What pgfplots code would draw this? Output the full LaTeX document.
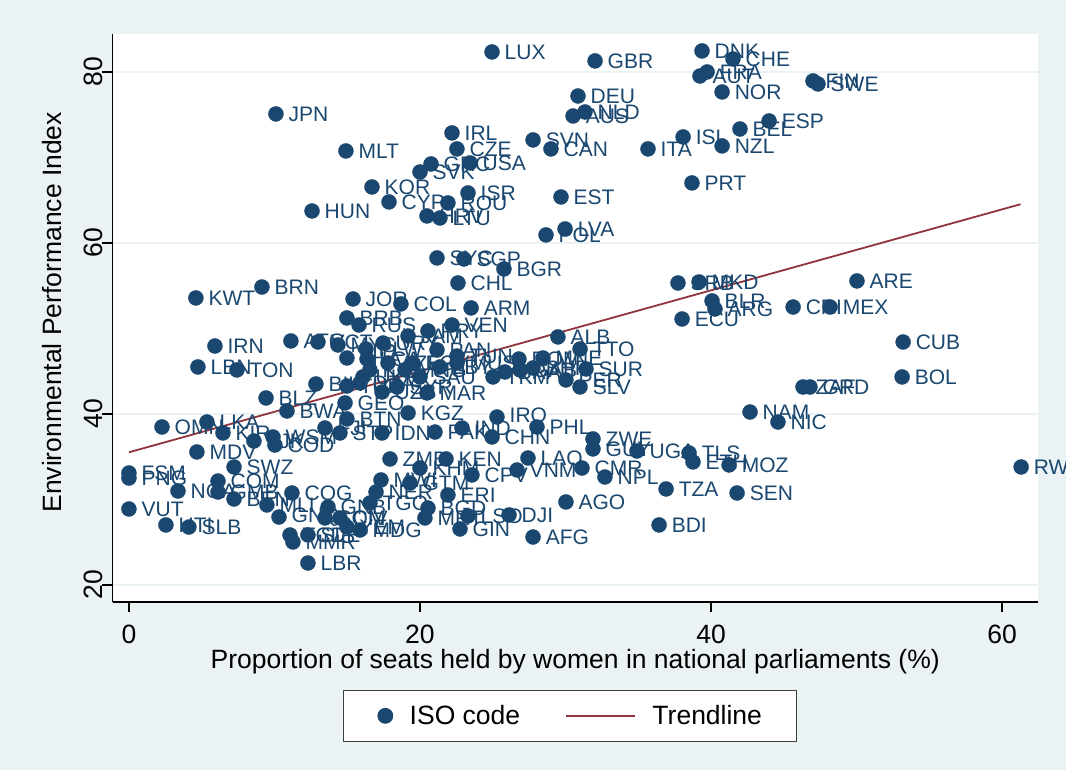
\documentclass[border=0pt]{standalone}
\usepackage{fontspec}
\setmainfont{Liberation Sans}
\usepackage{pgfplots}
\usepackage{pgfplotstable}
\pgfplotsset{compat=1.18}
\definecolor{stbg}{HTML}{EAF2F3}
\definecolor{stnavy}{HTML}{1A476F}
\definecolor{stmaroon}{HTML}{90353B}

% women in parliament (%) vs EPI
\pgfplotstableread{
x y iso
24.95 82.34 LUX
32.03 81.29 GBR
39.38 82.46 DNK
41.51 81.52 CHE
39.73 80.00 FRA
39.24 79.53 AUT
47.01 78.95 FIN
47.35 78.60 SWE
40.76 77.66 NOR
43.99 74.27 ESP
41.99 73.33 BEL
40.76 71.35 NZL
38.69 67.02 PRT
38.08 72.40 ISL
35.67 71.00 ITA
30.86 77.19 DEU
31.34 75.32 NLD
30.52 74.85 AUS
27.77 72.05 SVN
29.00 71.00 CAN
22.20 72.87 IRL
22.54 71.00 CZE
23.44 69.36 USA
20.76 69.24 GRC
20.00 68.30 SVK
23.30 65.85 ISR
21.92 64.68 ROU
17.87 64.80 CYP
20.48 63.16 HRV
21.37 62.92 LTU
29.69 65.38 EST
29.97 61.64 LVA
28.66 60.94 POL
16.70 66.55 KOR
12.58 63.74 HUN
14.91 70.76 MLT
10.10 75.09 JPN
21.17 58.25 SYC
23.02 58.13 SGP
25.77 56.96 BGR
22.61 55.32 CHL
15.40 53.45 JOR
18.69 52.87 COL
23.51 52.40 ARM
14.98 51.23 BRB
15.81 50.41 RUS
22.20 50.41 VEN
20.55 49.71 PRY
19.18 49.12 JAM
9.14 54.85 BRN
4.60 53.57 KWT
5.91 47.95 IRN
11.13 48.54 ATG
12.99 48.42 VCT
4.74 45.50 LBN
7.42 45.15 TON
9.42 41.87 BLZ
10.86 40.35 BWA
12.85 43.51 BIH
14.36 48.07 MYS
21.17 47.49 PAN
22.54 46.78 TUN
26.80 46.43 DOM
28.45 46.55 MNE
29.48 49.01 ALB
31.00 47.60 TTO
31.41 45.26 SUR
30.03 43.98 PER
31.00 43.16 SLV
37.73 55.32 SRB
39.18 55.44 MKD
40.07 53.22 BLR
40.27 52.28 ARG
38.01 51.11 ECU
50.03 55.56 ARE
45.64 52.51 CRI
48.18 52.51 MEX
53.20 48.42 CUB
53.13 44.33 BOL
46.32 43.16 ZAF
46.80 43.16 GRD
42.68 40.23 NAM
44.60 39.06 NIC
61.31 33.80 RWA
2.27 38.48 OMN
5.36 39.06 LKA
6.46 37.78 KIR
8.59 36.84 TJK
9.90 37.31 WSM
10.03 36.37 COD
4.67 35.56 MDV
7.22 33.80 SWZ
0.00 33.10 FSM
0.00 32.51 PNG
6.12 32.16 COM
6.12 30.88 GMB
3.37 30.99 NGA
7.22 30.06 BEN
9.48 29.36 MLI
11.20 30.76 COG
0.00 28.89 VUT
2.54 27.02 HTI
4.12 26.78 SLB
10.31 27.95 GNQ
11.07 25.85 TCD
11.27 25.03 MMR
12.30 25.85 SLE
12.30 22.57 LBR
13.68 29.12 GNB
16.56 29.59 TGO
20.55 29.00 BGD
17.94 34.74 ZMB
20.00 33.68 KHM
21.79 34.74 KEN
23.57 32.87 CPV
26.67 33.45 VNM
27.42 34.85 LAO
17.32 32.28 MWI
19.31 31.93 GTM
16.98 30.88 NER
21.92 30.53 ERI
20.34 27.84 MRT
23.30 28.07 LSO
26.12 28.19 DJI
22.75 26.55 GIN
27.77 25.61 AFG
30.03 29.71 AGO
36.43 27.02 BDI
36.91 31.23 TZA
41.79 30.76 SEN
41.24 34.04 MOZ
38.76 34.39 ETH
38.49 35.44 TLS
34.91 35.67 UGA
31.89 35.91 GUY
31.89 37.08 ZWE
31.13 33.68 CMR
32.71 32.63 NPL
28.04 38.48 PHL
25.29 39.65 IRQ
24.95 37.31 CHN
14.85 41.29 GEO
14.98 39.42 BTN
19.18 40.12 KGZ
14.50 37.78 STP
17.39 37.78 IDN
22.89 38.36 IND
21.03 37.89 PAK
13.47 38.36 FJI
14.98 46.55 THA
16.36 46.43 LCA
16.56 45.15 KAZ
16.08 44.33 UKR
17.80 45.96 AZE
18.97 45.15 MNG
19.52 45.96 EGY
20.00 44.33 SAU
21.37 45.50 LBY
22.54 45.96 MUS
15.88 43.63 DZA
14.98 43.27 TUR
17.39 42.57 UZB
18.42 43.16 SYR
20.48 42.46 MAR
25.02 44.33 TKM
25.84 44.91 BRA
26.87 45.15 GAB
27.77 45.38 BHR
17.46 48.30 URY
16.29 47.60 PLW
13.47 27.84 SOM
14.50 27.84 CIV
14.98 26.78 YEM
15.88 26.43 MDG
}\epidata

\begin{document}
\begin{tikzpicture}
\useasboundingbox (0,0) rectangle (1066bp,770bp);
\fill[stbg] (0,0) rectangle (1066bp,770bp);
\begin{axis}[
  at={(112.5bp,168bp)}, anchor=south west,
  width=925.5bp, height=568bp, scale only axis,
  xmin=-1.13, xmax=62.47, ymin=18.01, ymax=84.44,
  clip=false,
  axis background/.style={fill=white},
  axis x line*=bottom, axis y line*=left,
  axis line style={-, black, line width=1.6bp},
  xtick={0,20,40,60}, ytick={20,40,60,80},
  tick align=outside, major tick length=10bp,
  tick style={black, line width=1.3bp},
  ymajorgrids, grid style={stbg, line width=2.5bp},
  /pgf/number format/assume math mode=true,
  ticklabel style={font=\fontsize{26.5bp}{30bp}\selectfont},
  xticklabel style={yshift=-9bp},
  yticklabel style={xshift=4bp, rotate=90, anchor=south},
  xlabel={Proportion of seats held by women in national parliaments (\%)},
  ylabel={Environmental Performance Index},
  label style={font=\fontsize{26.5bp}{30bp}\selectfont},
  xlabel style={at={(axis description cs:0.5,-0.1056)}, anchor=center},
  ylabel style={at={(axis description cs:-0.0654,0.51)}, anchor=center},
  legend style={at={(0.494,-0.2004)}, anchor=center, draw=black!75,
    line width=0.8bp, fill=white, legend columns=2,
    font=\fontsize{26.5bp}{30bp}\selectfont,
    nodes={inner sep=0bp},
    /tikz/every odd column/.append style={column sep=16.5bp},
    /tikz/every even column/.append style={column sep=45bp},
    inner xsep=34bp, inner ysep=15.5bp, cells={anchor=west}},
]
\addplot[only marks, mark=*, mark size=7.5bp, stnavy,
  point meta=explicit symbolic, nodes near coords,
  every node near coord/.append style={anchor=west, xshift=12bp,
    inner sep=0.5bp, text=stnavy, font=\fontsize{21bp}{25bp}\selectfont},
  legend image code/.code={\fill[stnavy] (0bp,0bp) circle (7.5bp);}]
  table[x=x, y=y, meta=iso]{\epidata};
\addlegendentry{ISO code}
\addplot[stmaroon, line width=1.8bp, no marks,
  legend image code/.code={\draw[stmaroon, line width=1.8bp] (0bp,0bp) -- (69bp,0bp);}]
  coordinates {(0,35.52) (61.27,64.53)};
\addlegendentry{Trendline}
\end{axis}
\end{tikzpicture}
\end{document}
